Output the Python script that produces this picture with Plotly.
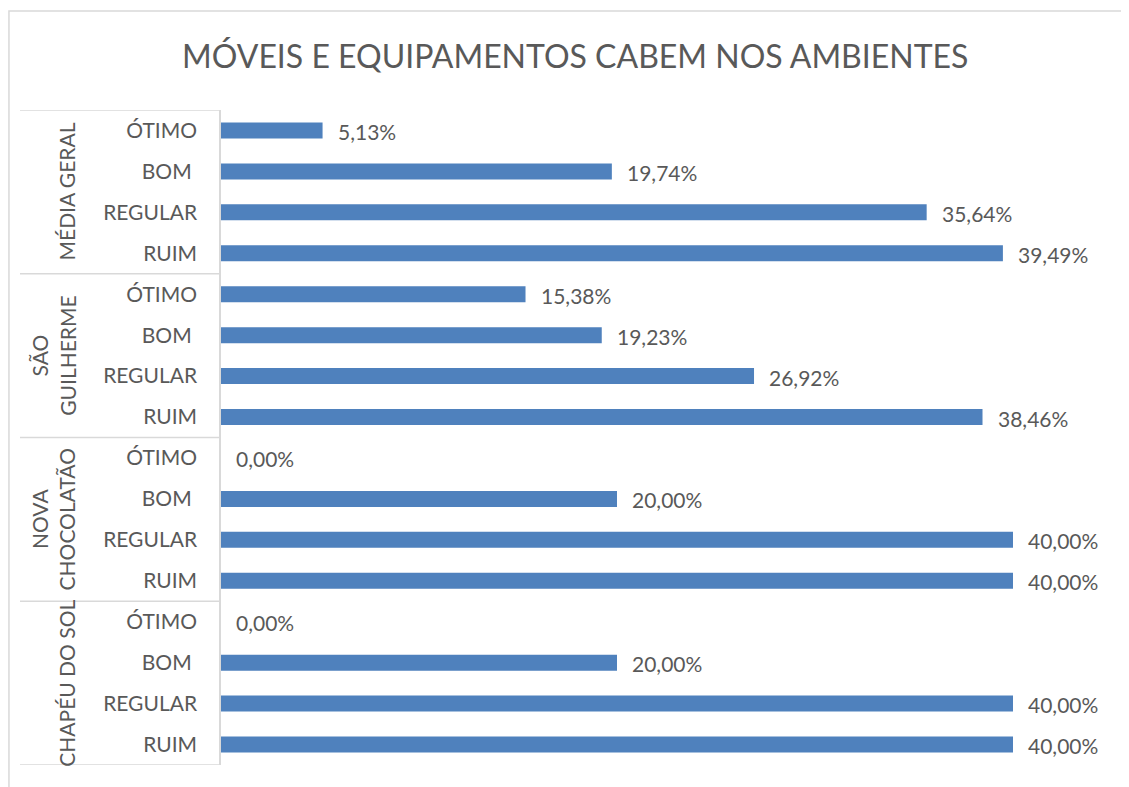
import plotly.graph_objects as go

# Data (percent)
groups = ["MÉDIA GERAL", "SÃO<br>GUILHERME", "NOVA<br>CHOCOLATÃO", "CHAPÉU DO SOL"]
categories = ["ÓTIMO", "BOM\u00a0", "REGULAR", "RUIM"]
media_geral = [5.13, 19.74, 35.64, 39.49]
sao_guilherme = [15.38, 19.23, 26.92, 38.46]
nova_chocolatao = [0.00, 20.00, 40.00, 40.00]
chapeu_do_sol = [0.00, 20.00, 40.00, 40.00]

series = [media_geral, sao_guilherme, nova_chocolatao, chapeu_do_sol]

values = []
labels = []
for s in series:
    values += s
    labels += categories
pos = list(range(len(values)))

BLUE = "#4f81bd"
GRID = "#d9d9d9"
TXT = "#595959"
FONT = "Lato, 'Open Sans', sans-serif"

fig = go.Figure()
fig.add_trace(go.Bar(
    x=values, y=pos, orientation="h",
    marker=dict(color=BLUE, line=dict(width=0)),
    width=0.39, hoverinfo="skip",
))

# data labels with comma decimal
annotations = []
for v, p in zip(values, pos):
    annotations.append(dict(
        x=v, y=p, xref="x", yref="y", text=f"{v:.2f}%".replace(".", ","),
        showarrow=False, xanchor="left", xshift=13, yshift=-1,
        font=dict(size=21, color=TXT, family=FONT),
    ))

# group labels (rotated) and separators
n = len(categories)
shapes = []
for g, name in enumerate(groups):
    annotations.append(dict(
        x=-0.157, y=g * n + (n - 1) / 2, xref="paper", yref="y",
        text=name, textangle=-90, showarrow=False, xanchor="right",
        yanchor="middle", align="center",
        font=dict(size=21, color=TXT, family=FONT),
    ))
for g in range(len(groups) + 1):
    yb = g * n - 0.5
    shapes.append(dict(type="line", xref="paper", yref="y",
                       x0=-0.2256, x1=0, y0=yb, y1=yb,
                       line=dict(color=GRID, width=1.5)))

# outer chart border (right and bottom edges fall off the page)
shapes.append(dict(type="rect", xref="paper", yref="paper",
                   x0=-0.238, x1=1.04, y0=-0.05, y1=1.151,
                   line=dict(color=GRID, width=1.5), layer="below"))

# page body has an 8px margin, so the figure is 8px smaller
fig.update_layout(
    width=1121, height=779,
    margin=dict(l=213, r=17, t=102, b=22),
    paper_bgcolor="white", plot_bgcolor="white",
    title=dict(text="MÓVEIS E EQUIPAMENTOS CABEM NOS AMBIENTES",
               x=0.506, xref="container", xanchor="center", y=0.937, yanchor="middle",
               font=dict(size=32, color=TXT, family=FONT)),
    showlegend=False,
    xaxis=dict(range=[0, 45], visible=False, fixedrange=True),
    yaxis=dict(range=[len(values) - 0.5, -0.5], tickvals=pos, ticktext=labels,
               showgrid=False, zeroline=False, showline=True, linecolor=GRID,
               linewidth=1.5, ticks="", ticklabelstandoff=18,
               tickfont=dict(size=21, color=TXT, family=FONT)),
    annotations=annotations,
    shapes=shapes,
)

fig.write_html("out.html")
